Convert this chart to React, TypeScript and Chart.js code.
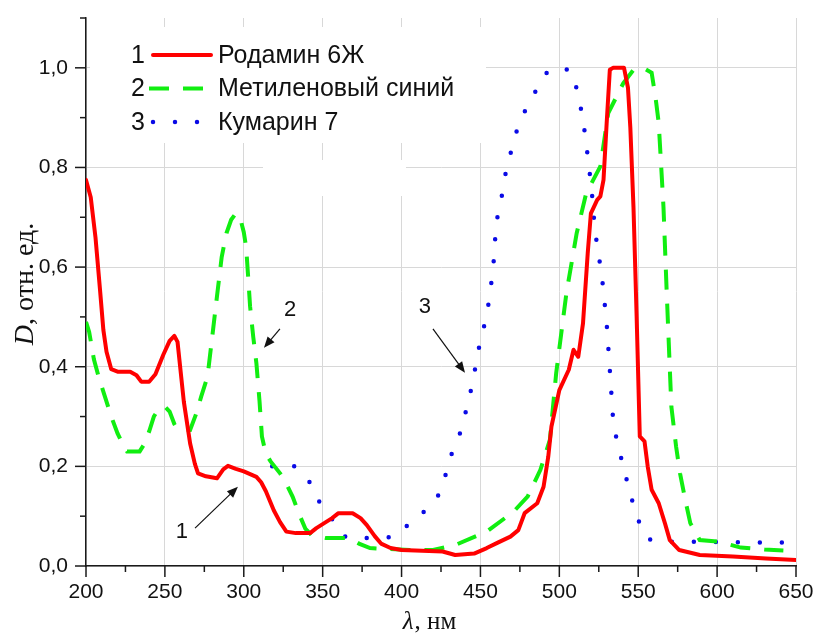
import React, { useEffect, useRef } from 'react';
import { Chart, registerables } from 'chart.js';

Chart.register(...registerables);

// ---------- data ----------
const rhodamineX = [200, 203, 206, 209, 211, 213, 216, 220, 228, 232, 235, 240, 244, 249, 253, 256, 258, 262, 266, 269, 271, 276, 283, 287, 290, 295, 300, 308, 311, 314, 319, 323, 327, 333, 342, 346, 352, 356, 360, 369, 374, 378, 383, 387, 393, 400, 426, 434, 446, 454, 461, 469, 474, 478, 486, 490, 493, 495, 500, 506, 509, 512, 515, 518, 520, 524, 526, 528, 530, 532, 534, 538, 541, 543.5, 545, 547, 549, 551, 554, 556, 558.5, 563, 567, 570, 576, 589, 610, 631, 650];
const rhodamineY = [0.775, 0.74, 0.66, 0.55, 0.474, 0.43, 0.395, 0.39, 0.39, 0.383, 0.37, 0.37, 0.385, 0.424, 0.452, 0.462, 0.45, 0.33, 0.246, 0.205, 0.186, 0.18, 0.176, 0.194, 0.201, 0.195, 0.19, 0.179, 0.168, 0.15, 0.112, 0.088, 0.069, 0.066, 0.066, 0.076, 0.088, 0.096, 0.106, 0.106, 0.096, 0.082, 0.06, 0.045, 0.036, 0.032, 0.029, 0.022, 0.025, 0.036, 0.047, 0.059, 0.072, 0.106, 0.126, 0.159, 0.22, 0.28, 0.353, 0.394, 0.434, 0.42, 0.487, 0.628, 0.708, 0.735, 0.742, 0.775, 0.889, 0.996, 1.0, 1.0, 1.0, 0.96, 0.88, 0.72, 0.5, 0.26, 0.25, 0.2, 0.153, 0.126, 0.085, 0.052, 0.032, 0.022, 0.019, 0.015, 0.012];

const methyleneX = [200, 202, 205, 208, 212, 216, 220, 224, 226, 234, 237, 240, 243, 246, 250, 253, 256, 258, 266, 270, 273, 277, 280, 283, 286, 289, 292, 295, 298, 300, 301.5, 303, 304, 306, 308, 310, 311.5, 314, 317, 323, 327, 331, 335, 339, 343, 352, 367, 373, 380, 405, 420, 434, 454, 471, 480, 488, 494, 498, 504.5, 511, 517, 526, 531, 540.5, 547, 553, 558.5, 561, 563, 566, 568, 571, 574, 576.5, 580, 583, 589, 600, 608, 615, 630, 642];
const methyleneY = [0.49, 0.47, 0.415, 0.38, 0.34, 0.3, 0.266, 0.24, 0.23, 0.23, 0.245, 0.27, 0.3, 0.315, 0.32, 0.31, 0.285, 0.275, 0.273, 0.307, 0.34, 0.38, 0.46, 0.541, 0.62, 0.668, 0.695, 0.708, 0.695, 0.67, 0.64, 0.57, 0.521, 0.46, 0.407, 0.33, 0.26, 0.225, 0.21, 0.186, 0.165, 0.139, 0.105, 0.075, 0.062, 0.056, 0.056, 0.045, 0.036, 0.032, 0.032, 0.042, 0.069, 0.109, 0.14, 0.193, 0.253, 0.387, 0.548, 0.668, 0.748, 0.802, 0.909, 0.969, 0.996, 1.0, 0.99, 0.94, 0.889, 0.721, 0.554, 0.32, 0.24, 0.186, 0.13, 0.086, 0.052, 0.049, 0.043, 0.037, 0.033, 0.031];

const coumarinX = [318, 325, 332, 336, 341, 347, 351, 355, 361, 366, 380, 388, 395, 400, 406, 417, 425, 431, 437, 441, 444.5, 450, 454, 458, 460, 463.5, 466, 472, 478, 486, 492, 495, 502, 508, 512, 515, 517, 520.5, 522.5, 527, 530, 532, 534, 537, 540.5, 544, 548, 553, 558, 566, 600, 644];
const coumarinY = [0.2, 0.2, 0.2, 0.19, 0.173, 0.133, 0.115, 0.099, 0.066, 0.056, 0.056, 0.056, 0.059, 0.07, 0.089, 0.116, 0.149, 0.219, 0.266, 0.313, 0.36, 0.454, 0.501, 0.594, 0.688, 0.742, 0.789, 0.865, 0.912, 0.959, 0.99, 0.998, 1.0, 0.993, 0.946, 0.896, 0.849, 0.755, 0.675, 0.581, 0.487, 0.394, 0.297, 0.24, 0.203, 0.155, 0.112, 0.066, 0.052, 0.049, 0.048, 0.047];

const seriesNumbers = ['1', '2', '3'];
const seriesNames = ['Родамин 6Ж', 'Метиленовый синий', 'Кумарин 7'];

const xMin = 200;
const xMax = 650;
const xStep = 25;
const xMajorStep = 50;
const yMin = 0;
const yMax = 1.1;
const yStep = 0.1;

const xTitleItalic = 'λ';
const xTitleRest = ', нм';
const yTitleItalic = 'D';
const yTitleRest = ', отн. ед.';

// callouts: number label, its centre, arrow tail and arrow head (data units)
const calloutLabels = ['1', '2', '3'];
const calloutTextX = [260.8, 329.3, 414.8];
const calloutTextY = [0.068, 0.514, 0.52];
const calloutTailX = [269.1, 322.9, 419.9];
const calloutTailY = [0.076, 0.476, 0.476];
const calloutHeadX = [296.3, 312.8, 440.2];
const calloutHeadY = [0.159, 0.438, 0.388];

// ---------- styles ----------
const SANS = 'Arial, "Liberation Sans", sans-serif';
const SERIF = '"Liberation Serif", "Times New Roman", serif';
const GRID = '#d8d8d8';
const AXIS = '#1a1a1a';

const toPoints = (xs: number[], ys: number[]) => xs.map((x, i) => ({ x, y: ys[i] }));

const isMajorX = (v: number) => Math.round(v) % xMajorStep === 0;
const isMajorY = (v: number) => Math.round(v * 10) % 2 === 0;

const decorPlugin = {
  id: 'decor',
  beforeDatasetsDraw(chart: any) {
    const { ctx, chartArea } = chart;
    ctx.save();
    ctx.fillStyle = '#ffffff';
    // legend box background (hides grid behind legend)
    ctx.fillRect(chartArea.left + 4, chartArea.top + 9, 396, 116);
    // small blank text-box area in the original
    ctx.fillRect(chartArea.left + 177, chartArea.top + 142, 143, 36);
    ctx.restore();
  },
  afterDatasetsDraw(chart: any) {
    const { ctx, chartArea, scales } = chart;
    const xs = scales.x;
    const ys = scales.y;
    ctx.save();
    // legend
    const lx = chartArea.left + 45;
    const lineStart = chartArea.left + 63;
    const lineEnd = chartArea.left + 125;
    const textX = chartArea.left + 132;
    const rowTop = chartArea.top + 37;
    const rowGap = 33.5;
    ctx.font = `25px ${SANS}`;
    ctx.textBaseline = 'middle';
    ctx.textAlign = 'left';
    chart.data.datasets.forEach((ds: any, i: number) => {
      const yy = rowTop + i * rowGap;
      ctx.fillStyle = '#111';
      ctx.fillText(seriesNumbers[i], lx, yy + 1);
      ctx.fillText(ds.label, textX, yy + 1);
      ctx.save();
      ctx.strokeStyle = ds.borderColor;
      ctx.lineWidth = ds.borderWidth;
      ctx.lineCap = ds.borderCapStyle || 'butt';
      ctx.setLineDash(ds.borderDash || []);
      ctx.beginPath();
      const s = ds.borderCapStyle === 'round' ? lineStart + 4 : lineStart;
      ctx.moveTo(s, yy);
      ctx.lineTo(lineEnd, yy);
      ctx.stroke();
      ctx.restore();
    });

    // callouts
    ctx.font = `22px ${SANS}`;
    ctx.textAlign = 'center';
    ctx.textBaseline = 'middle';
    ctx.fillStyle = '#111';
    ctx.strokeStyle = '#111';
    ctx.lineWidth = 1.2;
    calloutLabels.forEach((lab, i) => {
      const tx = xs.getPixelForValue(calloutTextX[i]);
      const ty = ys.getPixelForValue(calloutTextY[i]);
      ctx.fillText(lab, tx, ty);
      const ax = xs.getPixelForValue(calloutTailX[i]);
      const ay = ys.getPixelForValue(calloutTailY[i]);
      const bx = xs.getPixelForValue(calloutHeadX[i]);
      const by = ys.getPixelForValue(calloutHeadY[i]);
      const ang = Math.atan2(by - ay, bx - ax);
      const hl = 11;
      const hw = 4.5;
      ctx.beginPath();
      ctx.moveTo(ax, ay);
      ctx.lineTo(bx - Math.cos(ang) * hl * 0.8, by - Math.sin(ang) * hl * 0.8);
      ctx.stroke();
      ctx.beginPath();
      ctx.moveTo(bx, by);
      ctx.lineTo(bx - Math.cos(ang) * hl - Math.sin(ang) * hw, by - Math.sin(ang) * hl + Math.cos(ang) * hw);
      ctx.lineTo(bx - Math.cos(ang) * hl + Math.sin(ang) * hw, by - Math.sin(ang) * hl - Math.cos(ang) * hw);
      ctx.closePath();
      ctx.fill();
    });
    ctx.restore();
  },
  afterDraw(chart: any) {
    const { ctx, chartArea, scales } = chart;
    const xs = scales.x;
    const ys = scales.y;
    ctx.save();
    ctx.strokeStyle = AXIS;
    ctx.lineWidth = 1.5;
    xs.ticks.forEach((t: any) => {
      const px = xs.getPixelForValue(t.value);
      ctx.beginPath();
      ctx.moveTo(px, chartArea.bottom);
      ctx.lineTo(px, chartArea.bottom + (isMajorX(t.value) ? 11 : 6));
      ctx.stroke();
    });
    ys.ticks.forEach((t: any) => {
      const py = ys.getPixelForValue(t.value);
      ctx.beginPath();
      ctx.moveTo(chartArea.left, py);
      ctx.lineTo(chartArea.left - (isMajorY(t.value) ? 11 : 6), py);
      ctx.stroke();
    });

    // axis titles
    ctx.fillStyle = '#111';
    ctx.textBaseline = 'alphabetic';
    ctx.textAlign = 'left';
    const italicX = `italic 25px ${SERIF}`;
    const regX = `25px ${SERIF}`;
    ctx.font = italicX;
    const w1 = ctx.measureText(xTitleItalic).width;
    ctx.font = regX;
    const w2 = ctx.measureText(xTitleRest).width;
    const cx = (chartArea.left + chartArea.right) / 2 - 12;
    const sx = cx - (w1 + w2) / 2;
    const by = chartArea.bottom + 63;
    ctx.font = italicX;
    ctx.fillText(xTitleItalic, sx, by);
    ctx.font = regX;
    ctx.fillText(xTitleRest, sx + w1 + 1, by);

    ctx.save();
    ctx.translate(33, 284);
    ctx.rotate(-Math.PI / 2);
    const italicY = `italic 28px ${SERIF}`;
    const regY = `28px ${SERIF}`;
    ctx.font = italicY;
    const v1 = ctx.measureText(yTitleItalic).width;
    ctx.font = regY;
    const v2 = ctx.measureText(yTitleRest).width;
    const s2 = -(v1 + v2) / 2;
    ctx.font = italicY;
    ctx.fillText(yTitleItalic, s2, 0);
    ctx.font = regY;
    ctx.fillText(yTitleRest, s2 + v1, 0);
    ctx.restore();

    ctx.restore();
  },
};

export default function App() {
  const canvasRef = useRef<HTMLCanvasElement | null>(null);

  useEffect(() => {
    document.body.style.margin = '0';
    const canvas = canvasRef.current;
    if (!canvas) return;
    const chart = new Chart(canvas, {
      type: 'line',
      data: {
        datasets: [
          {
            label: seriesNames[0],
            data: toPoints(rhodamineX, rhodamineY),
            borderColor: '#ff0000',
            borderWidth: 4,
            pointRadius: 0,
            tension: 0,
            borderCapStyle: 'round',
            borderJoinStyle: 'round',
            fill: false,
          } as any,
          {
            label: seriesNames[1],
            data: toPoints(methyleneX, methyleneY),
            borderColor: '#11ee11',
            borderWidth: 4,
            borderDash: [20, 14],
            pointRadius: 0,
            tension: 0,
            borderCapStyle: 'butt',
            fill: false,
          } as any,
          {
            label: seriesNames[2],
            data: toPoints(coumarinX, coumarinY),
            borderColor: '#0a0ae6',
            borderWidth: 4.5,
            borderDash: [0, 22],
            borderCapStyle: 'round',
            pointRadius: 0,
            tension: 0,
            fill: false,
          } as any,
        ],
      },
      options: {
        animation: false,
        responsive: false,
        devicePixelRatio: 1,
        layout: { padding: { top: 18, right: 18, left: 0, bottom: 0 } },
        plugins: {
          legend: { display: false },
          tooltip: { enabled: false },
        },
        scales: {
          x: {
            type: 'linear',
            min: xMin,
            max: xMax,
            afterFit: (s: any) => {
              s.height = 69;
              s.paddingLeft = 0;
              s.paddingRight = 0;
              s.paddingTop = 0;
              s.paddingBottom = 0;
            },
            ticks: {
              stepSize: xStep,
              autoSkip: false,
              maxRotation: 0,
              padding: 14,
              color: '#111',
              font: { family: SANS, size: 21 },
              callback: (v: any) => (isMajorX(Number(v)) ? String(Math.round(Number(v))) : ''),
            },
            grid: {
              drawTicks: false,
              lineWidth: 1,
              color: (c: any) => (c.tick && isMajorX(c.tick.value) ? GRID : 'rgba(0,0,0,0)'),
            },
            border: { display: true, color: AXIS, width: 1.5 },
          },
          y: {
            type: 'linear',
            min: yMin,
            max: yMax,
            afterFit: (s: any) => {
              s.width = 86;
              s.paddingLeft = 0;
              s.paddingRight = 0;
              s.paddingTop = 0;
              s.paddingBottom = 0;
            },
            ticks: {
              stepSize: yStep,
              autoSkip: false,
              padding: 18,
              color: '#111',
              font: { family: SANS, size: 21 },
              callback: (v: any) => {
                const n = Math.round(Number(v) * 10);
                return n % 2 === 0 ? (n / 10).toFixed(1).replace('.', ',') : '';
              },
            },
            grid: {
              drawTicks: false,
              lineWidth: 1,
              color: (c: any) => (c.tick && isMajorY(c.tick.value) ? GRID : 'rgba(0,0,0,0)'),
            },
            border: { display: true, color: AXIS, width: 1.5 },
          },
        },
      },
      plugins: [decorPlugin],
    });
    return () => chart.destroy();
  }, []);

  return (
    <div style={{ width: 814, height: 635, background: '#fff' }}>
      <canvas ref={canvasRef} width={814} height={635} style={{ display: 'block' }} />
    </div>
  );
}
